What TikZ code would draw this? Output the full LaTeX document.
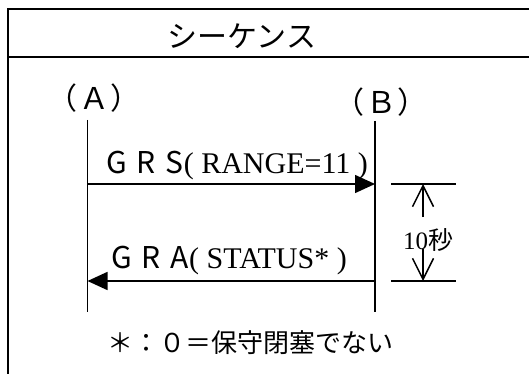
\documentclass[tikz,border=0pt]{standalone}
\usepackage{fontspec}
\setmainfont{Liberation Serif}
\newfontfamily\cjk{Noto Sans CJK JP}
\usetikzlibrary{arrows.meta}

\begin{document}
\begin{tikzpicture}[x=1pt,y=-1pt,font=\fontsize{25}{28}\selectfont,
  frame/.style={line width=2pt},
  lifeline/.style={line width=1.5pt},
  msg/.style={line width=1.5pt,-{Triangle[length=20pt,width=18pt]}},
  msglabel/.style={anchor=base west,inner sep=0pt,font=\fontsize{30}{32}\selectfont},
  big/.style={font=\fontsize{30}{32}\selectfont\cjk},
  dimline/.style={line width=1.5pt},
  dimarrow/.style={line width=1.5pt,-{Straight Barb[length=21pt,width=21pt]}}]
  \useasboundingbox (0,0) rectangle (529,374);

  % Frame and title
  \draw[frame] (529,9) -- (7.5,9) -- (7.5,374);
  \draw[frame] (7.5,57) -- (529,57);
  \node[big] (title)  at (242,36) {シーケンス};

  % Lifelines
  \node[big] (A)      at (94,98)  {（\hspace{2pt}Ａ\hspace{1pt}）};
  \node[big] (B)      at (381,102) {（\hspace{2pt}Ｂ\hspace{1pt}）};
  \coordinate (Atop) at (87.5,120);
  \coordinate (Abot) at (87.5,312);
  \coordinate (Btop) at (375,121);
  \coordinate (Bbot) at (375,312);
  \draw[lifeline] (Atop) -- (Abot);
  \draw[lifeline] (Btop) -- (Bbot);

  % Messages
  \coordinate (grsA) at (87.5,184);
  \coordinate (grsB) at (375,184);
  \coordinate (graA) at (87.5,281);
  \coordinate (graB) at (375,281);
  \draw[msg] (grsA) -- (grsB);
  \draw[msg] (graB) -- (graA);
  \node[msglabel] (grs) at (106,173) {{\cjk G\hspace{10pt}R\hspace{10pt}S}( RANGE=11 )};
  \node[msglabel] (gra) at (111,268) {{\cjk G\hspace{10pt}R\hspace{10pt}A}( STATUS* )};

  % Time interval
  \coordinate (t1l) at (391,184);
  \coordinate (t1r) at (456,184);
  \coordinate (t2l) at (391,281);
  \coordinate (t2r) at (456,281);
  \coordinate (t1m) at (423,184);
  \coordinate (t2m) at (423,281);
  \draw[dimline] (t1l) -- (t1r);
  \draw[dimline] (t2l) -- (t2r);
  \node (dt) at (428,240) {10{\cjk 秒}};
  \draw[dimarrow] (423,217) -- (t1m);
  \draw[dimarrow] (423,249) -- (t2m);

  % Note
  \node[font=\fontsize{26}{28}\selectfont\cjk] (note) at (250,343) {＊：０＝保守閉塞でない};
\end{tikzpicture}
\end{document}
